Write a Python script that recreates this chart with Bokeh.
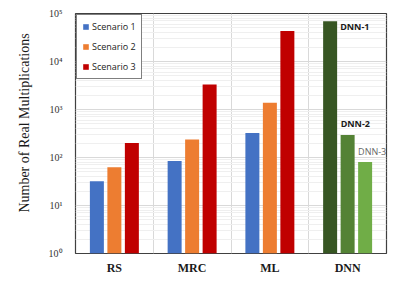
from bokeh.plotting import figure
from bokeh.models import FixedTicker, Legend, LegendItem
from bokeh.core.properties import value
from bokeh.embed import file_html
from bokeh.resources import INLINE

categories = ["RS", "MRC", "ML", "DNN"]
scenario_names = ["Scenario 1", "Scenario 2", "Scenario 3"]
scenario1 = [32, 85, 325]
scenario2 = [63, 237, 1375]
scenario3 = [200, 3300, 43000]
dnn_names = ["DNN-1", "DNN-2", "DNN-3"]
dnn_values = [69000, 295, 81]
y_ticks = [1, 10, 100, 1000, 10000, 100000]
y_tick_labels = ["10\u2070", "10\u00b9", "10\u00b2", "10\u00b3", "10\u2074", "10\u2075"]
y_title = "Number of Real Multiplications"

scen_colors = ["#4472C4", "#ED7D31", "#C00000"]
dnn_colors = ["#375623", "#548235", "#70AD47"]
offsets = [-0.225, 0.0, 0.225]
bw = 0.18

p = figure(width=391, height=280, output_backend="svg", toolbar_location=None,
           x_range=(0, 4), y_range=(1, 100000), y_axis_type="log",
           min_border_left=75, min_border_right=5, min_border_top=13, min_border_bottom=27)
p.background_fill_color = "white"
p.border_fill_color = "white"
p.outline_line_color = "#404040"
p.outline_line_width = 1.2

centers = [i + 0.5 for i in range(len(categories))]
renderers = []
for k, vals in enumerate([scenario1, scenario2, scenario3]):
    xs = [centers[i] + offsets[k] for i in range(len(vals))]
    r = p.vbar(x=xs, top=vals, bottom=1, width=bw, fill_color=scen_colors[k], line_color=None)
    renderers.append(r)

dnn_x = [centers[3] + o for o in offsets]
p.vbar(x=dnn_x, top=dnn_values, bottom=1, width=bw, fill_color=dnn_colors, line_color=None)

# DNN labels
p.text(x=[dnn_x[0] + bw / 2], y=[dnn_values[0]], text=[dnn_names[0]], x_offset=3, y_offset=-1,
       text_font=value("Open Sans"), text_font_style="bold", text_font_size="9px",
       text_color="#1a1a1a", text_align="left", text_baseline="top")
p.text(x=[dnn_x[1] - bw / 2], y=[dnn_values[1]], text=[dnn_names[1]], x_offset=0, y_offset=-5,
       text_font=value("Open Sans"), text_font_style="bold", text_font_size="9px",
       text_color="#1a1a1a", text_align="left", text_baseline="bottom")
p.text(x=[dnn_x[2] - bw / 2], y=[dnn_values[2]], text=[dnn_names[2]], x_offset=0, y_offset=-4,
       text_font=value("Open Sans"), text_font_size="9px",
       text_color="#666666", text_align="left", text_baseline="bottom")

# axes
p.xaxis.ticker = FixedTicker(ticks=centers)
p.xaxis.major_label_overrides = {c: n for c, n in zip(centers, categories)}
p.xaxis.major_label_text_font = "Liberation Serif"
p.xaxis.major_label_text_font_style = "bold"
p.xaxis.major_label_text_font_size = "12px"
p.xaxis.major_label_text_color = "#1a1a1a"
p.xaxis.major_label_standoff = 7
p.xaxis.major_tick_out = 0
p.xaxis.major_tick_in = 0
p.xaxis.minor_tick_out = 0
p.xaxis.minor_tick_in = 0
p.xaxis.major_tick_line_color = None
p.xaxis.minor_tick_line_color = None
p.xaxis.axis_line_color = None

p.yaxis.ticker = FixedTicker(ticks=y_ticks, minor_ticks=[m * 10 ** d for d in range(5) for m in range(2, 10)])
p.yaxis.major_label_overrides = {t: l for t, l in zip(y_ticks, y_tick_labels)}
p.yaxis.major_label_text_font = "Liberation Serif"
p.yaxis.major_label_text_font_size = "10px"
p.yaxis.major_label_text_color = "#333333"
p.yaxis.major_label_text_baseline = "bottom"
p.yaxis.major_label_standoff = 13
p.yaxis.major_tick_out = 0
p.yaxis.major_tick_in = 0
p.yaxis.minor_tick_out = 0
p.yaxis.minor_tick_in = 0
p.yaxis.major_tick_line_color = None
p.yaxis.minor_tick_line_color = None
p.yaxis.axis_line_color = None
p.yaxis.axis_label = "\u00a0" * 6 + y_title
p.yaxis.axis_label_text_font = "Liberation Serif"
p.yaxis.axis_label_text_font_style = "normal"
p.yaxis.axis_label_text_font_size = "14px"
p.yaxis.axis_label_text_color = "#1a1a1a"
p.yaxis.axis_label_standoff = 14

p.xgrid.ticker = FixedTicker(ticks=[1, 2, 3])
p.xgrid.grid_line_color = "#D9D9D9"
p.ygrid.grid_line_color = "#D9D9D9"
p.ygrid.minor_grid_line_color = "#EFEFEF"

legend = Legend(items=[LegendItem(label=n, renderers=[r]) for n, r in zip(scenario_names, renderers)],
                location="top_left")
legend.label_text_font = "Open Sans"
legend.label_text_font_size = "9px"
legend.label_text_color = "#1a1a1a"
legend.glyph_width = 7
legend.glyph_height = 7
legend.label_height = 12
legend.label_standoff = 3
legend.spacing = 7
legend.padding = 5
legend.margin = 1
legend.border_line_color = "black"
legend.border_line_width = 1.2
legend.background_fill_alpha = 1
p.add_layout(legend)

open("out.html", "w").write(file_html(p, INLINE))
